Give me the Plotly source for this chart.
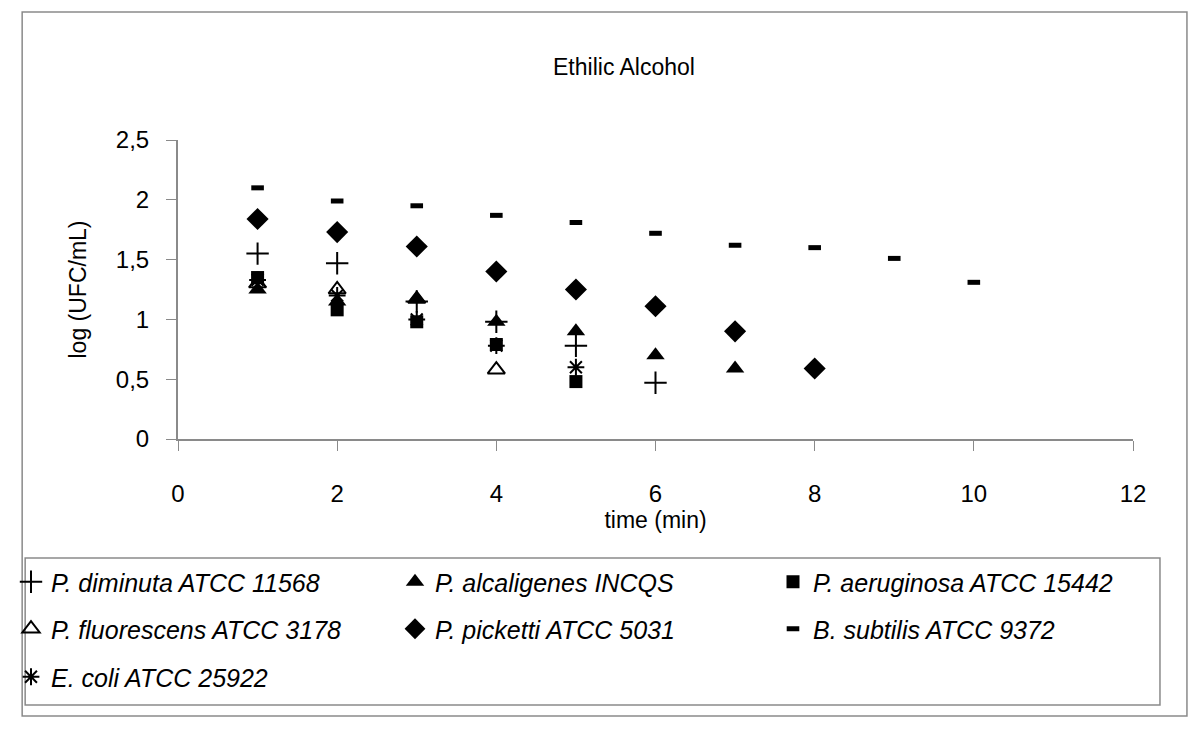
import plotly.graph_objects as go

time_all = [1, 2, 3, 4, 5, 6, 7, 8, 9, 10]

names = [
    "P. diminuta ATCC 11568",
    "P. alcaligenes INCQS",
    "P. aeruginosa ATCC 15442",
    "P. fluorescens ATCC 3178",
    "P. picketti ATCC 5031",
    "B. subtilis ATCC 9372",
    "E. coli ATCC 25922",
]

diminuta = [1.55, 1.47, 1.15, 0.98, 0.78, 0.47]
alcaligenes = [1.25, 1.15, 1.17, 0.98, 0.90, 0.70, 0.59]
aeruginosa = [1.35, 1.08, 0.98, 0.79, 0.48]
fluorescens = [1.30, 1.25, 1.17, 0.58]
picketti = [1.84, 1.73, 1.61, 1.40, 1.25, 1.11, 0.90, 0.59]
subtilis = [2.10, 1.99, 1.95, 1.87, 1.81, 1.72, 1.62, 1.60, 1.51, 1.31]
ecoli = [1.33, 1.20, 1.00, 0.78, 0.60]

series = [diminuta, alcaligenes, aeruginosa, fluorescens, picketti, subtilis, ecoli]

styles = [
    dict(symbol="cross-thin", size=16, line=dict(width=2, color="black")),
    dict(symbol="triangle-up", size=16),
    dict(symbol="square", size=13),
    dict(symbol="triangle-up-open", size=15, line=dict(width=2, color="black")),
    dict(symbol="diamond", size=17),
    dict(symbol="line-ew", size=9, line=dict(width=5, color="black")),
    dict(symbol="asterisk-open", size=14, line=dict(width=2, color="black")),
]

FONT = "Liberation Sans, Arial, sans-serif"

# plot area in pixels
L, R, T, B = 177, 1133, 140, 439
PW, PH = R - L, B - T


def px_x(p):
    return (p - L) / PW


def px_y(p):
    return (B - p) / PH


# legend grid (pixel positions of each entry)
col_x = [11, 395, 773]
row_y = [582, 629, 677]

fig = go.Figure()
legends = {}
for i, (name, vals, st) in enumerate(zip(names, series, styles)):
    lid = "legend" if i == 0 else f"legend{i + 1}"
    fig.add_trace(go.Scatter(
        x=time_all[:len(vals)], y=vals, mode="markers", name=name,
        marker=dict(color="black", **st), legend=lid, cliponaxis=False,
    ))
    legends[lid] = dict(
        orientation="h", xanchor="left", yanchor="middle",
        x=px_x(col_x[i % 3]), y=px_y(row_y[i // 3]),
        font=dict(family=FONT, size=25, color="black", style="italic"),
        bgcolor="rgba(0,0,0,0)", borderwidth=0, itemclick=False,
    )

fig.update_layout(
    width=1200, height=736,
    margin=dict(l=L, r=1200 - R, t=T, b=736 - B),
    paper_bgcolor="white", plot_bgcolor="white",
    separators=",.",
    font=dict(family=FONT, color="black"),
    title=dict(text="Ethilic Alcohol", x=0.52, xref="container", xanchor="center",
               y=(736 - 67) / 736, yref="container", yanchor="middle",
               font=dict(family=FONT, size=23, color="black")),
    xaxis=dict(range=[0, 12], dtick=2, tick0=0, showgrid=False, zeroline=False,
               showline=True, linecolor="#8a8a8a", linewidth=2,
               ticks="outside", ticklen=10, tickcolor="#8a8a8a", tickwidth=1,
               ticklabelstandoff=22,
               tickfont=dict(family=FONT, size=24, color="black"),
               title=dict(text="time (min)", font=dict(family=FONT, size=23, color="black"), standoff=0)),
    yaxis=dict(range=[0, 2.5], dtick=0.5, tick0=0, showgrid=False, zeroline=False,
               showline=True, linecolor="#8a8a8a", linewidth=2,
               ticks="outside", ticklen=10, tickcolor="#8a8a8a", tickwidth=1,
               ticklabelstandoff=12,
               tickfont=dict(family=FONT, size=24, color="black"),
               title=dict(text="log (UFC/mL)", font=dict(family=FONT, size=23, color="black"), standoff=23)),
    showlegend=True,
    shapes=[
        dict(type="rect", xref="paper", yref="paper",
             x0=px_x(21), x1=px_x(1187), y0=px_y(716), y1=px_y(12),
             line=dict(color="#8a8a8a", width=1.5), fillcolor="rgba(0,0,0,0)", layer="below"),
        dict(type="rect", xref="paper", yref="paper",
             x0=px_x(24), x1=px_x(1160), y0=px_y(705), y1=px_y(558),
             line=dict(color="#8a8a8a", width=1.5), fillcolor="rgba(0,0,0,0)", layer="below"),
    ],
)
fig.update_layout(**legends)

fig.write_html("out.html", config={"displayModeBar": False},
               post_script="document.body.style.margin='0';")
